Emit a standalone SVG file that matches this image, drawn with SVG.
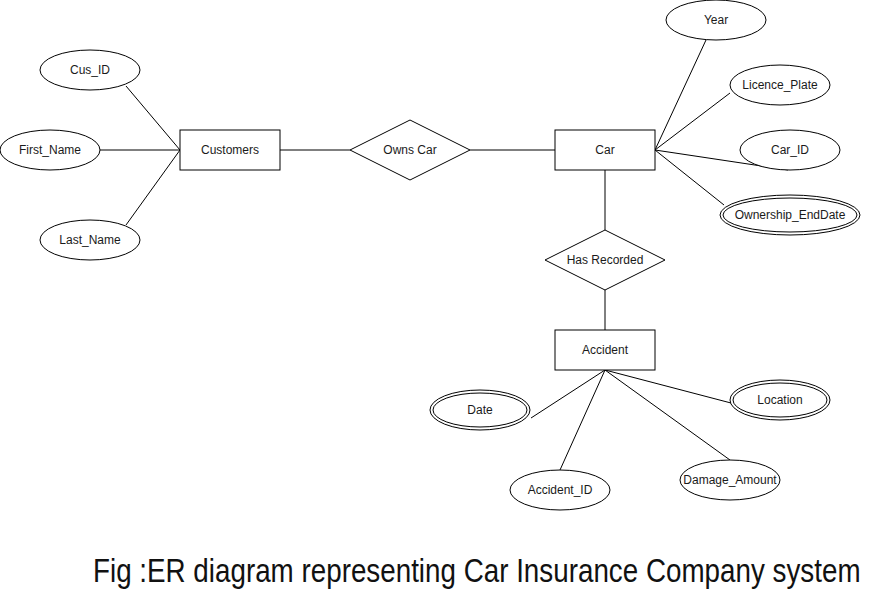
<svg xmlns="http://www.w3.org/2000/svg" width="871" height="592" viewBox="0 0 871 592">
<style>
.s{fill:#fff;stroke:#000;stroke-width:1}
.t{font-family:"Liberation Sans",Arial,sans-serif;font-size:12px;fill:#1a1a1a;text-anchor:middle;dominant-baseline:central}
.c line{stroke:#000;stroke-width:1}
</style>
<rect width="871" height="592" fill="#fff"/>
<g class="c" id="connectors">
<line x1="126" y1="86" x2="180" y2="150"/>
<line x1="100" y1="150" x2="180" y2="150"/>
<line x1="126" y1="225" x2="180" y2="150"/>
<line x1="280" y1="150" x2="350" y2="150"/>
<line x1="470" y1="150" x2="555" y2="150"/>
<line x1="655" y1="150" x2="706" y2="40"/>
<line x1="655" y1="150" x2="730" y2="93"/>
<line x1="655" y1="150" x2="788" y2="170"/>
<line x1="655" y1="150" x2="724" y2="205"/>
<line x1="605" y1="170" x2="605" y2="230"/>
<line x1="605" y1="290" x2="605" y2="330"/>
<line x1="605" y1="370" x2="531" y2="418"/>
<line x1="605" y1="370" x2="560" y2="470"/>
<line x1="605" y1="370" x2="730" y2="460"/>
<line x1="605" y1="370" x2="731" y2="403"/>
</g>
<g id="cus_id"><ellipse class="s" cx="90" cy="70" rx="50" ry="20"/><text class="t" x="90" y="70">Cus_ID</text></g>
<g id="first_name"><ellipse class="s" cx="50" cy="150" rx="50" ry="20"/><text class="t" x="50" y="150">First_Name</text></g>
<g id="last_name"><ellipse class="s" cx="90" cy="240" rx="50" ry="20"/><text class="t" x="90" y="240">Last_Name</text></g>
<g id="customers"><rect class="s" x="180" y="130" width="100" height="40"/><text class="t" x="230" y="150">Customers</text></g>
<g id="owns_car"><polygon class="s" points="350,150 410,120 470,150 410,180"/><text class="t" x="410" y="150">Owns Car</text></g>
<g id="car"><rect class="s" x="555" y="130" width="100" height="40"/><text class="t" x="605" y="150">Car</text></g>
<g id="year"><ellipse class="s" cx="716" cy="20" rx="50" ry="20"/><text class="t" x="716" y="20">Year</text></g>
<g id="licence_plate"><ellipse class="s" cx="780" cy="85" rx="50" ry="20"/><text class="t" x="780" y="85">Licence_Plate</text></g>
<g id="car_id"><ellipse class="s" cx="790" cy="150" rx="50" ry="20"/><text class="t" x="790" y="150">Car_ID</text></g>
<g id="ownership_enddate"><ellipse class="s" cx="790" cy="215" rx="70" ry="20"/><ellipse class="s" cx="790" cy="215" rx="67" ry="17"/><text class="t" x="790" y="215">Ownership_EndDate</text></g>
<g id="has_recorded"><polygon class="s" points="545,260 605,230 665,260 605,290"/><text class="t" x="605" y="260">Has Recorded</text></g>
<g id="accident"><rect class="s" x="555" y="330" width="100" height="40"/><text class="t" x="605" y="350">Accident</text></g>
<g id="date"><ellipse class="s" cx="480" cy="410" rx="50" ry="20"/><ellipse class="s" cx="480" cy="410" rx="47" ry="17"/><text class="t" x="480" y="410">Date</text></g>
<g id="accident_id"><ellipse class="s" cx="560" cy="490" rx="50" ry="20"/><text class="t" x="560" y="490">Accident_ID</text></g>
<g id="damage_amount"><ellipse class="s" cx="730" cy="480" rx="50" ry="20"/><text class="t" x="730" y="480">Damage_Amount</text></g>
<g id="location"><ellipse class="s" cx="780" cy="400" rx="50" ry="20"/><ellipse class="s" cx="780" cy="400" rx="47" ry="17"/><text class="t" x="780" y="400">Location</text></g>
<text transform="translate(93,582) scale(1,1.18)" x="0" y="0" font-family="Liberation Sans,Arial,sans-serif" font-size="27.8" fill="#111">Fig :ER diagram representing Car Insurance Company system</text>
</svg>
